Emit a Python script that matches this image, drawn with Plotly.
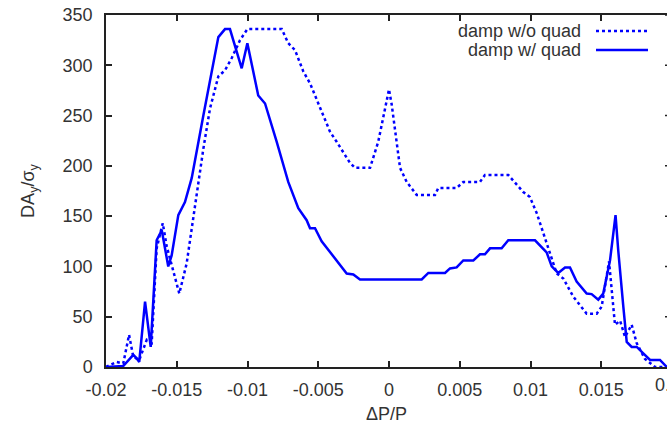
import plotly.graph_objects as go

# damp w/o quad (dashed)
x_no_quad = [-0.0200, -0.01924, -0.01878, -0.01837, -0.01807, -0.01765, -0.01712, -0.01677,
             -0.01642, -0.01599, -0.01571, -0.01482, -0.01430, -0.01359, -0.01312, -0.01265,
             -0.01206, -0.01159, -0.01112, -0.01053, -0.01001, -0.00758, -0.00712, -0.00664,
             -0.00606, -0.00558, -0.00476, -0.00417, -0.00370, -0.00323, -0.00276, -0.00240,
             -0.00134, -0.00076, -0.00028, 0.0, 0.00019, 0.00054, 0.00078, 0.00125, 0.00196,
             0.00325, 0.00348, 0.00478, 0.00525, 0.00643, 0.00678, 0.00843, 0.00949, 0.00996,
             0.01044, 0.01138, 0.01185, 0.01232, 0.01302, 0.01397, 0.01468, 0.01503, 0.01555,
             0.01597, 0.01633, 0.01668, 0.01715, 0.01751, 0.01809, 0.01880, 0.0200]
dA_no_quad = [0, 5, 3.5, 32, 10, 7, 27, 24,
              118, 143, 120, 73, 103, 174, 217, 257,
              289, 295, 307, 325, 336, 336, 322, 315,
              294, 282, 254, 234, 224, 214, 203, 198,
              198, 224, 257, 276, 261, 224, 198, 184, 171,
              171, 178, 178, 184, 184, 191, 191, 174, 169,
              153, 113, 93, 88, 70, 53, 53, 60, 105,
              42, 46, 30, 42, 23.5, 8, 0, 0]

# damp w/ quad (solid)
x_quad = [-0.0200, -0.01929, -0.01878, -0.01807, -0.01783, -0.01765, -0.01724, -0.01684,
          -0.01642, -0.01606, -0.01560, -0.01536, -0.01489, -0.01442, -0.01394, -0.01312,
          -0.01242, -0.01206, -0.01159, -0.01124, -0.01041, -0.01001, -0.00924, -0.00876,
          -0.00794, -0.00712, -0.00641, -0.00582, -0.00558, -0.00523, -0.00476, -0.00299,
          -0.00252, -0.00205, 0.00231, 0.00278, 0.00396, 0.00431, 0.00478, 0.00525,
          0.00596, 0.00643, 0.00678, 0.00714, 0.00796, 0.00843, 0.01032, 0.01114,
          0.01150, 0.01196, 0.01244, 0.01279, 0.01326, 0.01397, 0.01432, 0.01479,
          0.01514, 0.01562, 0.01601, 0.01620, 0.01656, 0.01680, 0.01715, 0.01751,
          0.01797, 0.01845, 0.01915, 0.01963, 0.0200]
dA_quad = [0, 1, 1, 12, 8.6, 5, 65, 20,
           126, 136, 100, 111, 151, 164, 188, 250,
           304, 328, 336, 336, 297, 322, 270, 262,
           224, 184, 158, 146, 138, 138, 125, 93,
           92, 87, 87, 93.5, 93.5, 98, 99, 106,
           106, 112, 112, 118, 118, 126, 126, 114,
           100, 93.5, 99, 99, 85, 73, 72.5, 67,
           73, 106, 151, 116, 60, 25, 20, 20,
           13.6, 7, 7, 0, 0]

x_tick_vals = [-0.02, -0.015, -0.01, -0.005, 0, 0.005, 0.01, 0.015]
x_tick_text = ["-0.02", "-0.015", "-0.01", "-0.005", "0", "0.005", "0.01", "0.015"]
y_tick_vals = [0, 50, 100, 150, 200, 250, 300, 350]

W, H = 667, 426
L, T, B = 106, 15, 59
plot_w = W - L
px_per_unit = 566 / 0.04
x_end = -0.02 + plot_w / px_per_unit

FONT = "Liberation Sans, Arial, sans-serif"
TXT = "#333333"
AX = "#222222"
BLUE = "#0000ff"

fig = go.Figure()
fig.add_trace(go.Scatter(x=x_no_quad, y=dA_no_quad, mode="lines", name="damp w/o quad",
                         line=dict(color=BLUE, width=2.5, dash="3px,3px")))
fig.add_trace(go.Scatter(x=x_quad, y=dA_quad, mode="lines", name="damp w/ quad",
                         line=dict(color=BLUE, width=2.5)))

fig.update_layout(
    width=W, height=H,
    margin=dict(l=L, r=0, t=T, b=B, pad=0),
    paper_bgcolor="white", plot_bgcolor="white",
    showlegend=False,
    font=dict(family=FONT, size=18, color=TXT),
)
fig.update_xaxes(
    range=[-0.02, x_end], tickvals=x_tick_vals, ticktext=x_tick_text,
    showgrid=False, zeroline=False, showline=True, linecolor=AX, linewidth=1.5,
    mirror="ticks", ticks="inside", ticklen=6, tickwidth=1.5, tickcolor=AX,
    ticklabelstandoff=6,
    title=dict(text="ΔP/P", standoff=8, font=dict(size=18, color=TXT)),
)
fig.update_yaxes(
    range=[0, 350], tickvals=y_tick_vals,
    showgrid=False, zeroline=False, showline=True, linecolor=AX, linewidth=1.5,
    ticks="inside", ticklen=6, tickwidth=1.5, tickcolor=AX,
    ticklabelstandoff=8,
    title=dict(text="DA<sub>y</sub>/σ<sub>y</sub>", standoff=23, font=dict(size=18, color=TXT)),
)

# partially visible last tick label (0.02) beyond the right edge
fig.add_annotation(x=(672 - L) / plot_w, y=0, xref="paper", yref="paper",
                   text="0.02", showarrow=False, xanchor="center", yanchor="top",
                   yshift=-6, font=dict(size=18, color=TXT, family=FONT))

# right-side mirrored ticks (right border lies just outside the picture)
for v in y_tick_vals[1:]:
    fig.add_shape(type="line", xref="paper", yref="y",
                  x0=(665 - L) / plot_w, x1=1.0, y0=v, y1=v,
                  line=dict(color=AX, width=1.5))

# legend in gnuplot style: text on the left, sample on the right
leg_rows = [("damp w/o quad", "3px,3px", 31), ("damp w/ quad", "solid", 50)]
for label, dash, py in leg_rows:
    yp = (H - B - py) / (H - B - T)
    fig.add_annotation(x=(583 - L) / plot_w, y=yp, xref="paper", yref="paper",
                       text=label, showarrow=False, xanchor="right", yanchor="middle",
                       font=dict(size=18, color=TXT, family=FONT))
    fig.add_shape(type="line", xref="paper", yref="paper",
                  x0=(596 - L) / plot_w, x1=(648 - L) / plot_w, y0=yp, y1=yp,
                  line=dict(color=BLUE, width=2.5, dash=dash))

fig.write_html("out.html")
